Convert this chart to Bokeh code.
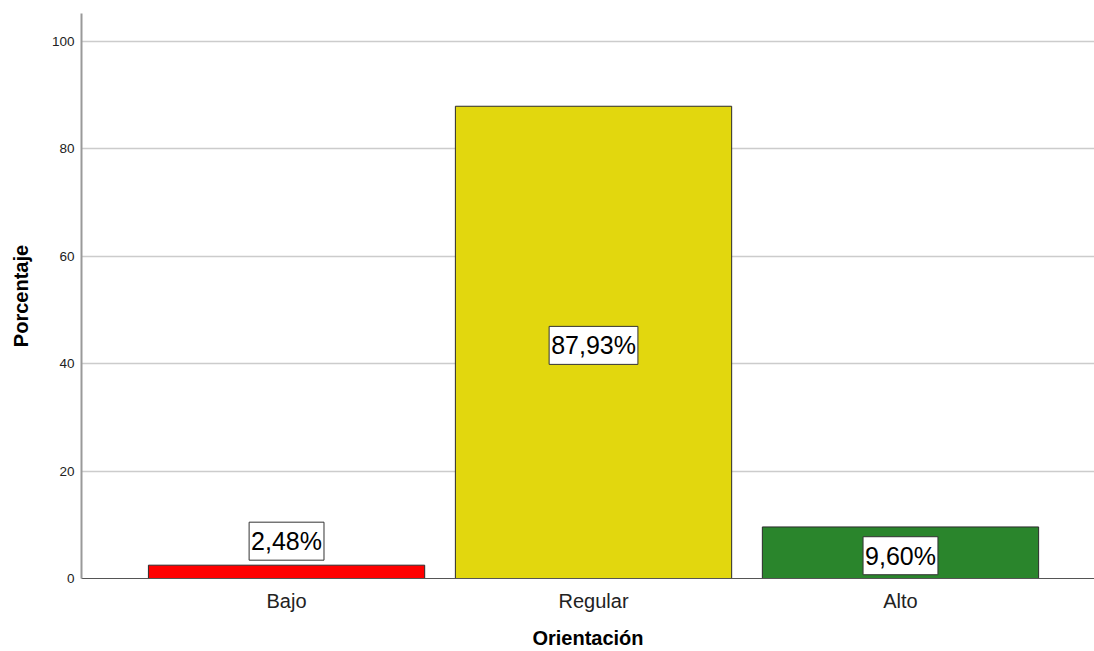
from bokeh.plotting import figure
from bokeh.models import Range1d, FixedTicker, Label, ColumnDataSource
from bokeh.embed import file_html
from bokeh.resources import INLINE

categories = ["Bajo", "Regular", "Alto"]
values = [2.48, 87.93, 9.60]
colors = ["#ff0000", "#e2d70e", "#2a852c"]
y_ticks = [0, 20, 40, 60, 80, 100]

FONT = "Liberation Sans"
xs = list(range(1, len(categories) + 1))

p = figure(width=1094, height=651, output_backend="svg", toolbar_location=None,
           x_range=Range1d(0.332, 3.632), y_range=Range1d(0, 105.2),
           min_border_left=81, min_border_right=0, min_border_top=13, min_border_bottom=73)
p.outline_line_color = None
p.background_fill_color = "white"

src = ColumnDataSource(dict(x=xs, top=values, color=colors, cat=categories))
p.vbar(x="x", top="top", width=0.9, bottom=0, fill_color="color",
       line_color="#2b2b2b", line_width=1, source=src)

# grid
p.xgrid.grid_line_color = None
p.ygrid.ticker = FixedTicker(ticks=y_ticks[1:])
p.ygrid.grid_line_color = "#cccccc"
p.ygrid.grid_line_width = 1.5

# y axis
p.yaxis.ticker = FixedTicker(ticks=y_ticks)
p.yaxis.axis_label = "Porcentaje"
p.yaxis.axis_label_text_font = FONT
p.yaxis.axis_label_text_font_style = "bold"
p.yaxis.axis_label_text_font_size = "20px"
p.yaxis.axis_label_text_color = "black"
p.yaxis.axis_label_standoff = 17
p.yaxis.major_label_text_font = FONT
p.yaxis.major_label_text_font_size = "13.5px"
p.yaxis.major_label_text_color = "#222222"
p.yaxis.major_label_standoff = 7
p.yaxis.major_tick_out = 0
p.yaxis.major_tick_in = 0
p.yaxis.minor_tick_out = 0
p.yaxis.minor_tick_in = 0
p.yaxis.axis_line_color = "#999999"
p.yaxis.axis_line_width = 2

# x axis
p.xaxis.ticker = FixedTicker(ticks=xs)
p.xaxis.major_label_overrides = {x: c for x, c in zip(xs, categories)}
p.xaxis.axis_label = "Orientación"
p.xaxis.axis_label_text_font = FONT
p.xaxis.axis_label_text_font_style = "bold"
p.xaxis.axis_label_text_font_size = "20px"
p.xaxis.axis_label_text_color = "black"
p.xaxis.axis_label_standoff = 12
p.xaxis.major_label_text_font = FONT
p.xaxis.major_label_text_font_size = "20px"
p.xaxis.major_label_text_color = "#222222"
p.xaxis.major_label_standoff = 11
p.xaxis.major_tick_out = 0
p.xaxis.major_tick_in = 0
p.xaxis.minor_tick_out = 0
p.xaxis.minor_tick_in = 0
p.xaxis.axis_line_color = "#555555"
p.xaxis.axis_line_width = 1

# value labels
for x, v in zip(xs, values):
    txt = f"{v:.2f}%".replace(".", ",")
    if v < 6:
        y, off = v, 24
    else:
        y, off = v / 2, -3
    p.add_layout(Label(x=x, y=y, y_offset=off, text=txt, text_align="center",
                       text_baseline="middle", text_font=FONT, text_font_size="25px",
                       text_color="black", background_fill_color="white",
                       border_line_color="#333333", border_line_width=1, padding=(2, 5)))

open("out.html", "w").write(file_html(p, INLINE))
